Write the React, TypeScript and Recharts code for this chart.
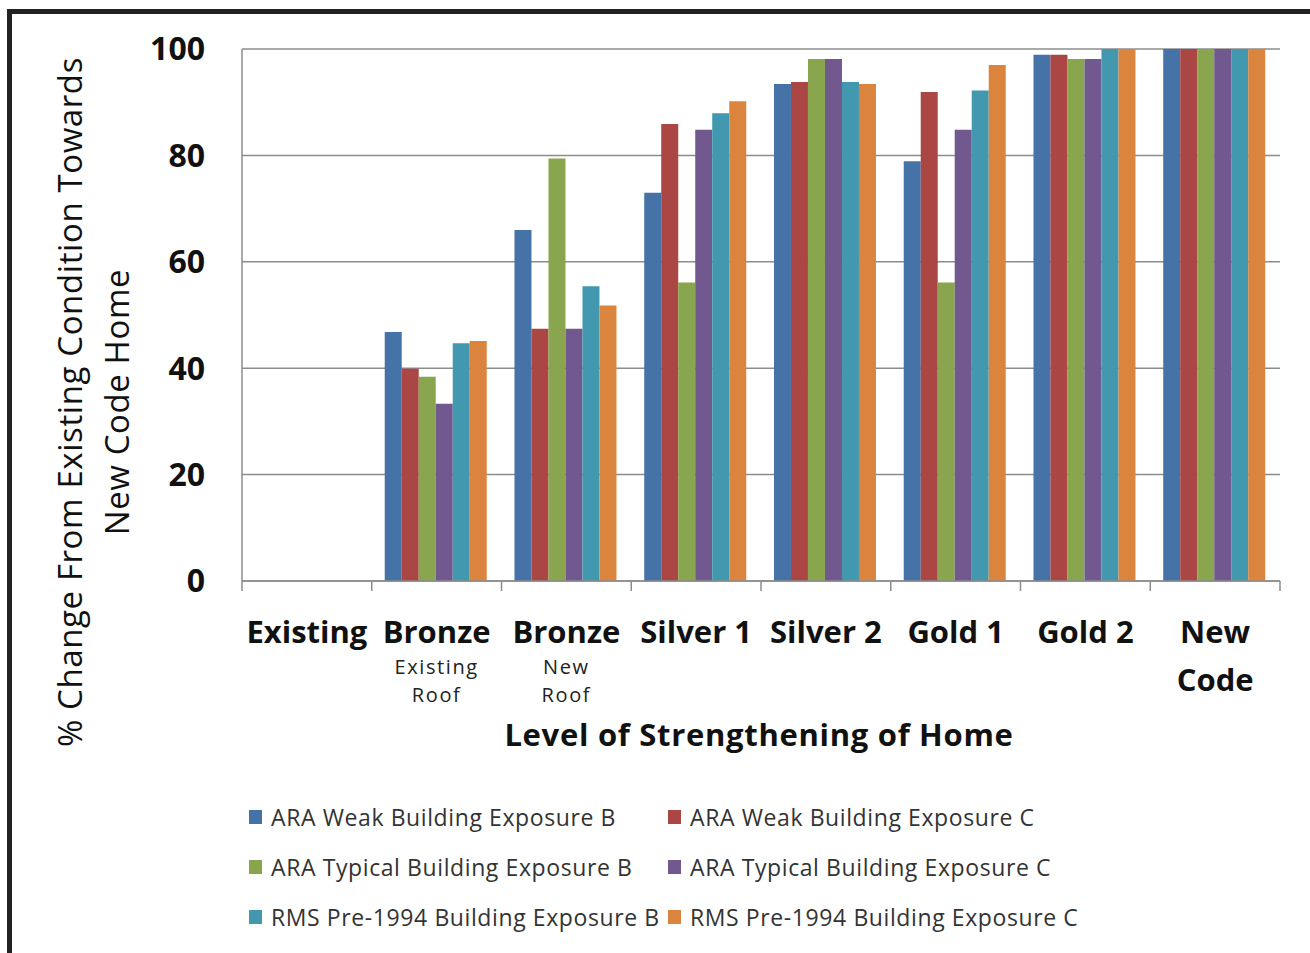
import { BarChart, Bar, XAxis, YAxis, CartesianGrid } from "recharts";

const categories = ["Existing", "Bronze", "Bronze", "Silver 1", "Silver 2", "Gold 1", "Gold 2", "New"];
const subLabels = ["", "Existing|Roof", "New|Roof", "", "", "", "", ""];
const boldSecondLine = ["", "", "", "", "", "", "", "Code"];

const araWeakB = [0, 46.8, 66.0, 73.0, 93.4, 78.9, 98.9, 100];
const araWeakC = [0, 39.9, 47.4, 85.9, 93.8, 91.9, 98.9, 100];
const araTypicalB = [0, 38.4, 79.4, 56.1, 98.1, 56.1, 98.1, 100];
const araTypicalC = [0, 33.3, 47.4, 84.8, 98.1, 84.8, 98.1, 100];
const rmsB = [0, 44.7, 55.4, 87.9, 93.8, 92.2, 100, 100];
const rmsC = [0, 45.1, 51.8, 90.2, 93.4, 97.0, 100, 100];

const yTicks = [0, 20, 40, 60, 80, 100];

const series = [
  { key: "araWeakB", name: "ARA Weak Building Exposure B", color: "#4572A7", values: araWeakB },
  { key: "araWeakC", name: "ARA Weak Building Exposure C", color: "#AA4643", values: araWeakC },
  { key: "araTypicalB", name: "ARA Typical Building Exposure B", color: "#89A54E", values: araTypicalB },
  { key: "araTypicalC", name: "ARA Typical Building Exposure C", color: "#71588F", values: araTypicalC },
  { key: "rmsB", name: "RMS Pre-1994 Building Exposure B", color: "#4198AF", values: rmsB },
  { key: "rmsC", name: "RMS Pre-1994 Building Exposure C", color: "#DB843D", values: rmsC },
];

const data = categories.map((c, i) => {
  const row: Record<string, string | number> = { key: `c${i}`, label: c };
  series.forEach((s) => {
    row[s.key] = s.values[i];
  });
  return row;
});

const FONT = "'Open Sans', sans-serif";
const CHART_W = 1310;
const CHART_H = 953;
const MARGIN = { top: 49, right: 30, left: 182, bottom: 242 };
const Y_AXIS_W = 60;
const X_AXIS_H = 130;
const AXIS_COLOR = "#8c8c8c";

const CategoryTick = (props: any) => {
  const { x, y, payload } = props;
  const i = payload.index;
  const plotW = props.width || CHART_W - MARGIN.left - Y_AXIS_W - MARGIN.right;
  const band = plotW / categories.length;
  const sub = subLabels[i] ? subLabels[i].split("|") : [];
  return (
    <g transform={`translate(${x},${y})`}>
      <line x1={-band / 2} x2={-band / 2} y1={0} y2={10} stroke={AXIS_COLOR} strokeWidth={1.5} />
      {i === categories.length - 1 && (
        <line x1={band / 2} x2={band / 2} y1={0} y2={10} stroke={AXIS_COLOR} strokeWidth={1.5} />
      )}
      <text x={0} y={62} textAnchor="middle" fontFamily={FONT} fontWeight={700} fontSize={31} fill="#111">
        {categories[i]}
      </text>
      {boldSecondLine[i] && (
        <text x={0} y={110} textAnchor="middle" fontFamily={FONT} fontWeight={700} fontSize={31} fill="#111">
          {boldSecondLine[i]}
        </text>
      )}
      {sub.map((s, k) => (
        <text
          key={k}
          x={0}
          y={93 + k * 28}
          textAnchor="middle"
          fontFamily={FONT}
          fontSize={20}
          letterSpacing={1.6}
          fill="#222"
        >
          {s}
        </text>
      ))}
    </g>
  );
};

export default function App() {
  return (
    <div
      style={{
        position: "absolute",
        left: 0,
        top: 0,
        width: 1310,
        height: 953,
        overflow: "hidden",
        background: "#fff",
        fontFamily: FONT,
      }}
    >
      <div
        style={{
          position: "absolute",
          left: 7,
          top: 9,
          width: 1400,
          height: 1000,
          borderTop: "5px solid #222",
          borderLeft: "5px solid #222",
        }}
      />
      <div style={{ position: "absolute", left: 0, top: 0 }}>
        <BarChart
          width={CHART_W}
          height={CHART_H}
          data={data}
          margin={MARGIN}
          barCategoryGap="10%"
          barGap={0}
        >
          <CartesianGrid vertical={false} stroke={AXIS_COLOR} strokeWidth={1.5} />
          <XAxis
            dataKey="key"
            height={X_AXIS_H}
            interval={0}
            tickLine={false}
            tickSize={0}
            tickMargin={0}
            axisLine={{ stroke: AXIS_COLOR, strokeWidth: 1.5 }}
            tick={<CategoryTick />}
          />
          <YAxis
            width={Y_AXIS_W}
            domain={[0, 100]}
            ticks={yTicks}
            tickLine={false}
            tickSize={0}
            tickMargin={37}
            axisLine={{ stroke: AXIS_COLOR, strokeWidth: 1.5 }}
            tick={{ fontFamily: FONT, fontWeight: 700, fontSize: 32, fill: "#111" }}
          />
          {series.map((s) => (
            <Bar key={s.key} dataKey={s.key} name={s.name} fill={s.color} isAnimationActive={false} />
          ))}
        </BarChart>
      </div>

      <div
        style={{
          position: "absolute",
          left: 93 - 420,
          top: 402 - 47,
          width: 840,
          height: 94,
          lineHeight: "47px",
          textAlign: "center",
          fontSize: 33,
          letterSpacing: 0.6,
          color: "#111",
          transform: "rotate(-90deg)",
          transformOrigin: "50% 50%",
          whiteSpace: "nowrap",
        }}
      >
        <div>% Change From Existing Condition Towards</div>
        <div>New Code Home</div>
      </div>

      <div
        style={{
          position: "absolute",
          left: 759 - 400,
          top: 734 - 22,
          width: 800,
          lineHeight: "44px",
          textAlign: "center",
          fontSize: 31,
          letterSpacing: 0.7,
          fontWeight: 700,
          color: "#111",
        }}
      >
        Level of Strengthening of Home
      </div>

      {series.map((s, i) => {
        const col = i % 2;
        const row = Math.floor(i / 2);
        return (
          <div
            key={s.key}
            style={{
              position: "absolute",
              left: col === 0 ? 249 : 668,
              top: 817 + row * 50 - 15,
              height: 30,
              display: "flex",
              alignItems: "center",
              fontSize: 23,
              letterSpacing: 0.6,
              color: "#333",
              whiteSpace: "nowrap",
            }}
          >
            <span style={{ width: 13, height: 14, background: s.color, marginRight: 9, display: "inline-block" }} />
            {s.name}
          </div>
        );
      })}
    </div>
  );
}
